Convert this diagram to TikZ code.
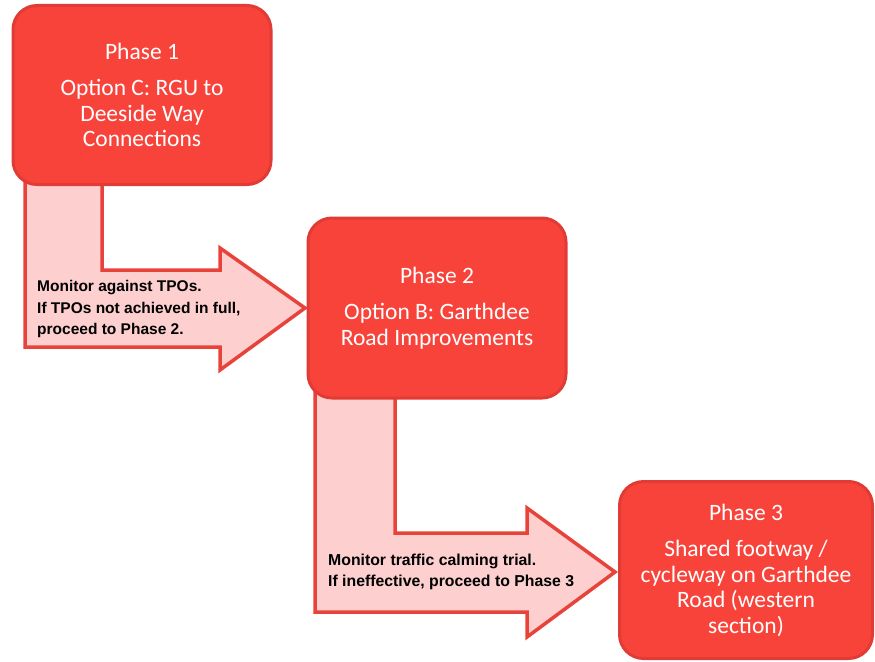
\documentclass[tikz,border=0pt]{standalone}
\usepackage{fontspec}
\setmainfont{Carlito}
\newfontfamily\arrowfont{Liberation Sans}
\definecolor{boxfill}{HTML}{F8433B}
\definecolor{boxline}{HTML}{E03C35}
\definecolor{arrfill}{HTML}{FDCFCF}
\definecolor{arrline}{HTML}{E8433A}
\tikzset{
  phasebox/.style={draw=boxline, line width=3pt, fill=boxfill, rounded corners=24pt,
    text=white, align=center, font=\fontsize{23.5}{25.5}\selectfont, inner sep=0pt},
  bentarrow/.style={draw=arrline, line width=3.5pt, fill=arrfill, line join=miter},
  arrtext/.style={align=left, font=\arrowfont\bfseries\fontsize{15.5}{21.5}\selectfont, inner sep=0pt, text=black}
}
\begin{document}
\begin{tikzpicture}[x=1pt,y=-1pt]
\useasboundingbox (0,0) rectangle (875,661);
% arrows
\draw[bentarrow] (25,150) -- (25,347) -- (220,347) -- (220,370) -- (305,308) -- (220,248) -- (220,270) -- (102,270) -- (102,150);
\draw[bentarrow] (315,360) -- (315,612) -- (527,612) -- (527,637) -- (615,572) -- (527,508) -- (527,533) -- (395,533) -- (395,360);
% boxes
\node[phasebox, minimum width=258pt, minimum height=179pt] (p1) at (142,95) {Phase 1\\[11pt]Option C: RGU to\\Deeside Way\\Connections};
\node[phasebox, minimum width=258pt, minimum height=180pt] (p2) at (437,308) {Phase 2\\[11pt]Option B: Garthdee\\Road Improvements};
\node[phasebox, minimum width=253pt, minimum height=177pt] (p3) at (746,570) {Phase 3\\[11pt]Shared footway /\\cycleway on Garthdee\\Road (western\\section)};
% arrow texts
\node[arrtext, anchor=west] (t1) at (37,309) {Monitor against TPOs.\\If TPOs not achieved in full,\\proceed to Phase 2.};
\node[arrtext, anchor=west, font=\arrowfont\bfseries\fontsize{15.8}{20.5}\selectfont] (t2) at (328,572) {Monitor traffic calming trial.\\If ineffective, proceed to Phase 3};
\end{tikzpicture}
\end{document}
